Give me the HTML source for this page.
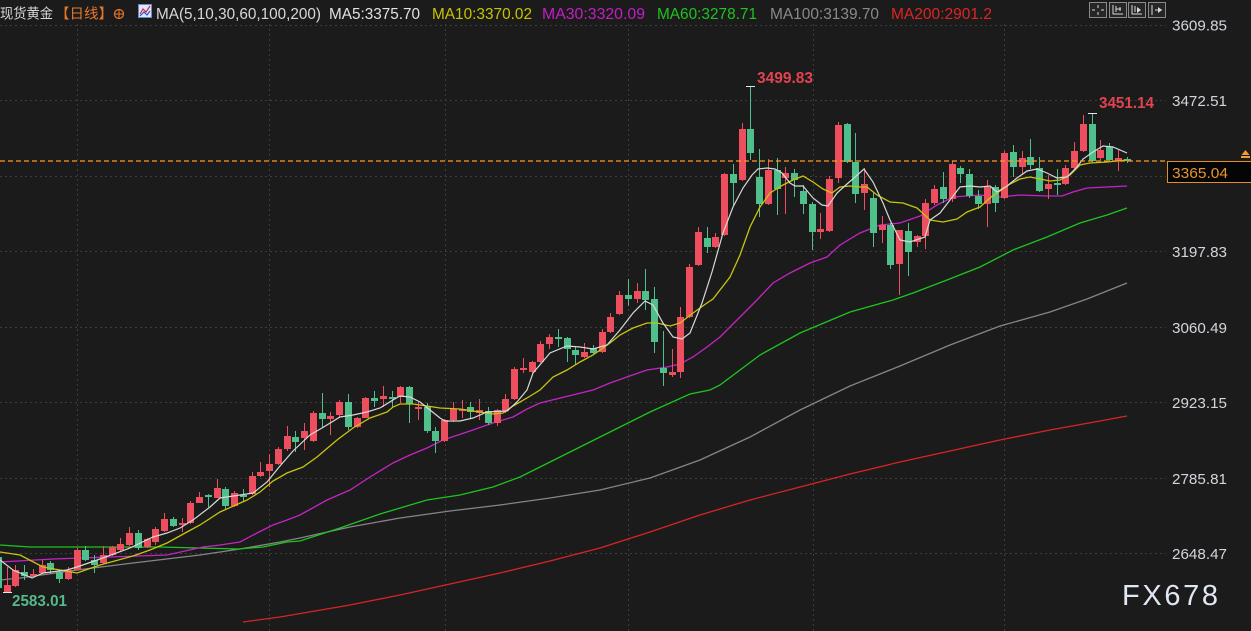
<!DOCTYPE html>
<html>
<head>
<meta charset="utf-8">
<style>
html,body{margin:0;padding:0;background:#1b1b1b;overflow:hidden;}
svg{display:block;}
text{font-family:"Liberation Sans","Noto Sans CJK SC",sans-serif;}
</style>
</head>
<body>
<svg width="1251" height="631" viewBox="0 0 1251 631" xmlns="http://www.w3.org/2000/svg">
<rect x="0" y="0" width="1251" height="631" fill="#1b1b1b"/>

<!-- grid -->
<g stroke="#3d3d3d" stroke-width="1" stroke-dasharray="2 3" shape-rendering="crispEdges" fill="none">
<path d="M0 25.5H1166M0 100.5H1166M0 176.5H1166M0 251.5H1166M0 327.5H1166M0 402.5H1166M0 478.5H1166M0 553.5H1166"/>
<path d="M77.5 24V631M269.5 24V631M445.5 24V631M628.5 24V631M813.5 24V631M1004.5 24V631"/>
</g>

<!-- MA200 -->
<polyline fill="none" stroke="#d82424" stroke-width="1.3" points="243,622 280,617 350,605 400,595 450,584 500,573 550,561 600,548 650,532 700,515 750,500 800,487 850,474 900,462 950,451 1000,440 1050,430 1100,421 1127,416"/>
<!-- MA100 -->
<polyline fill="none" stroke="#858585" stroke-width="1.3" points="0,580 20,578 77,570 133,563 200,555 240,549 280,542 300,538 350,527 400,518 450,511 500,505 550,498 600,490 650,478 700,460 750,437 800,410 850,386 900,366 950,345 1000,326 1050,312 1087,299 1127,283"/>
<!-- MA60 -->
<polyline fill="none" stroke="#1ec41e" stroke-width="1.3" points="0,545 30,547 160,547 238,549 263,547 287,542 300,541 340,528 380,514 427,500 460,495 493,487 520,477 540,467 570,452 600,437 650,412 690,394 710,390 720,385 760,355 800,333 850,312 893,300 913,293 947,280 980,267 1013,250 1047,237 1080,223 1107,215 1127,208"/>
<!-- MA30 -->
<polyline fill="none" stroke="#c424c4" stroke-width="1.3" points="0,562 53,559 167,555 203,547 220,545 240,542 257,533 273,525 287,520 300,515 327,500 350,490 370,477 393,463 410,455 427,448 443,440 467,432 493,423 513,417 527,409 540,403 593,390 610,383 627,377 647,370 667,367 680,364 693,357 707,347 720,337 757,300 773,283 790,273 810,263 827,257 840,245 860,233 880,225 900,223 920,216 937,205 953,197 967,196 980,195 1000,197 1020,195 1047,196 1062,196 1073,192 1087,188 1107,187 1127,186"/>

<!-- candles -->
<g shape-rendering="crispEdges">
<path fill="none" stroke="#ee4f5e" stroke-width="1" d="M7.5 567V593M15.5 565V587M33.5 569V577M42.5 560V574M68.5 567V580M77.5 548V570M103.5 546V564M112.5 546V556M120.5 538V551M129.5 527V546M147.5 538V548M155.5 527V545M164.5 513V532M182.5 518V532M190.5 501V524M199.5 492V503M217.5 479V498M234.5 491V507M252.5 472V495M260.5 462V477M269.5 454V487M278.5 447V465M287.5 426V451M304.5 423V450M313.5 411V442M330.5 412V435M339.5 400V417M357.5 417V428M365.5 397V418M383.5 386V407M400.5 386V403M418.5 402V420M444.5 419V442M453.5 402V422M462.5 400V418M479.5 399V420M497.5 409V426M505.5 394V413M514.5 367V400M523.5 358V373M532.5 361V373M540.5 341V363M549.5 334V349M584.5 343V358M602.5 329V353M610.5 313V333M619.5 291V315M637.5 283V303M672.5 349V377M680.5 307V378M689.5 264V318M698.5 227V266M715.5 233V248M724.5 173V236M742.5 123V181M768.5 159V205M785.5 167V214M820.5 213V239M829.5 176V232M838.5 122V183M864.5 168V210M882.5 216V243M899.5 230V295M917.5 235V247M925.5 199V249M934.5 185V205M952.5 161V202M987.5 180V227M1004.5 151V199M1022.5 151V175M1048.5 175V199M1065.5 165V185M1074.5 142V169M1083.5 115V152M1100.5 140V160M1118.5 149V171"/>
<path fill="#ee4f5e" d="M4 585h7v7h-7zM12 570h7v16h-7zM30 574h7v2h-7zM39 565h7v8h-7zM65 570h7v9h-7zM74 550h7v20h-7zM100 555h7v8h-7zM109 547h7v8h-7zM117 544h7v6h-7zM126 533h7v12h-7zM144 539h7v8h-7zM152 529h7v13h-7zM161 519h7v12h-7zM179 523h7v2h-7zM187 503h7v20h-7zM196 497h7v6h-7zM214 488h7v10h-7zM231 493h7v13h-7zM249 476h7v18h-7zM257 472h7v4h-7zM266 464h7v7h-7zM275 449h7v15h-7zM284 436h7v13h-7zM301 431h7v7h-7zM310 413h7v28h-7zM327 416h7v3h-7zM336 402h7v13h-7zM354 418h7v9h-7zM362 398h7v20h-7zM380 396h7v3h-7zM397 387h7v10h-7zM415 407h7v2h-7zM441 420h7v21h-7zM450 409h7v11h-7zM459 409h7v2h-7zM476 410h7v3h-7zM494 410h7v13h-7zM502 399h7v12h-7zM511 369h7v30h-7zM520 368h7v2h-7zM529 362h7v10h-7zM537 344h7v18h-7zM546 337h7v7h-7zM581 352h7v5h-7zM599 332h7v20h-7zM607 317h7v15h-7zM616 295h7v19h-7zM634 291h7v8h-7zM669 372h7v3h-7zM677 317h7v55h-7zM686 267h7v50h-7zM695 232h7v33h-7zM712 237h7v10h-7zM721 174h7v61h-7zM739 129h7v51h-7zM765 170h7v34h-7zM782 173h7v5h-7zM817 229h7v3h-7zM826 179h7v52h-7zM835 125h7v53h-7zM861 184h7v9h-7zM879 225h7v5h-7zM896 230h7v34h-7zM914 236h7v6h-7zM922 203h7v33h-7zM931 189h7v14h-7zM949 164h7v35h-7zM984 187h7v17h-7zM1001 153h7v45h-7zM1019 158h7v9h-7zM1045 184h7v5h-7zM1062 168h7v16h-7zM1071 151h7v17h-7zM1080 124h7v27h-7zM1097 150h7v8h-7zM1115 158h7v3h-7z"/>
<path fill="none" stroke="#4fbf8c" stroke-width="1" d="M-1.5 552V590M24.5 565V580M50.5 561V574M59.5 570V583M85.5 546V561M94.5 555V573M138.5 530V550M173.5 517V527M208.5 494V507M225.5 487V509M243.5 489V502M295.5 431V452M322.5 393V428M348.5 394V430M374.5 391V407M392.5 391V407M409.5 386V423M427.5 403V433M435.5 427V453M470.5 402V418M488.5 407V425M558.5 329V347M567.5 337V362M575.5 347V365M593.5 345V354M628.5 279V306M645.5 269V310M654.5 287V353M663.5 331V386M707.5 227V253M733.5 164V205M750.5 86V160M759.5 149V217M777.5 158V215M794.5 169V197M803.5 185V214M812.5 202V250M847.5 123V163M855.5 133V203M873.5 193V247M890.5 223V269M908.5 223V276M943.5 172V203M960.5 166V183M969.5 169V198M978.5 190V209M995.5 185V212M1013.5 145V177M1030.5 139V169M1039.5 157V192M1057.5 169V195M1092.5 113V162M1109.5 143V161M1127.5 157V163"/>
<path fill="#4fbf8c" d="M-5 557h7v31h-7zM21 572h7v4h-7zM47 563h7v7h-7zM56 572h7v7h-7zM82 550h7v10h-7zM91 560h7v5h-7zM135 533h7v15h-7zM170 519h7v7h-7zM205 495h7v2h-7zM222 489h7v17h-7zM240 495h7v2h-7zM292 437h7v5h-7zM319 413h7v6h-7zM345 402h7v25h-7zM371 398h7v3h-7zM389 397h7v2h-7zM406 387h7v17h-7zM424 407h7v24h-7zM432 431h7v10h-7zM467 407h7v5h-7zM485 411h7v12h-7zM555 337h7v2h-7zM564 338h7v11h-7zM572 350h7v5h-7zM590 348h7v5h-7zM625 295h7v4h-7zM642 291h7v9h-7zM651 299h7v43h-7zM660 368h7v5h-7zM704 238h7v9h-7zM730 174h7v9h-7zM747 129h7v24h-7zM756 177h7v27h-7zM774 170h7v19h-7zM791 173h7v7h-7zM800 191h7v13h-7zM809 204h7v28h-7zM844 124h7v38h-7zM852 162h7v32h-7zM870 198h7v35h-7zM887 225h7v40h-7zM905 231h7v21h-7zM940 187h7v12h-7zM957 168h7v6h-7zM966 174h7v22h-7zM975 196h7v8h-7zM992 187h7v16h-7zM1010 152h7v15h-7zM1027 157h7v8h-7zM1036 168h7v23h-7zM1054 183h7v2h-7zM1089 124h7v37h-7zM1106 147h7v13h-7zM1124 159h7v2h-7z"/>
</g>

<!-- MA10 -->
<polyline fill="none" stroke="#c8c410" stroke-width="1.3" points="0,552 20,555 43,567 77,573 100,565 133,556 150,550 167,543 187,532 200,525 220,512 247,500 260,492 273,481 287,473 303,467 317,457 337,440 353,428 370,418 387,412 393,407 400,404 413,404 427,406 440,408 460,409 473,411 493,414 503,413 513,406 527,398 540,390 553,377 567,370 580,362 593,355 610,343 620,335 633,328 647,323 657,323 670,326 680,323 693,313 707,303 713,299 730,277 740,255 750,227 760,207 770,193 783,185 793,180 803,176 813,182 823,189 832,193 840,187 850,186 860,187 867,187 877,195 890,202 903,203 917,208 930,220 943,222 957,219 967,212 980,207 990,198 1000,191 1010,184 1020,179 1030,177 1040,179 1050,181 1060,180 1070,175 1080,165 1090,163 1107,162 1127,160"/>
<!-- MA5 -->
<polyline fill="none" stroke="#d8d8d8" stroke-width="1.2" points="0,560 13,570 32,578 43,573 67,570 77,567 100,559 130,548 153,537 167,533 180,528 193,520 210,507 220,498 240,495 253,493 267,482 280,466 293,451 310,435 322,428 340,417 353,415 367,412 380,408 393,400 400,396 410,397 420,402 430,410 440,418 445,421 460,421 473,418 487,412 507,411 517,402 527,390 533,373 550,353 567,346 580,347 593,349 607,345 620,330 633,313 645,301 653,305 663,323 673,337 682,339 690,333 702,303 712,272 723,233 733,207 743,188 752,175 758,169 767,168 775,169 782,173 790,183 795,186 803,186 813,198 822,205 828,206 837,193 847,184 855,177 864,169 873,182 883,203 890,220 900,240 910,242 925,237 930,220 940,213 950,200 960,187 970,186 980,187 990,186 997,192 1007,186 1017,178 1027,171 1037,169 1047,173 1057,178 1067,177 1077,167 1083,159 1093,152 1103,146 1113,147 1127,153"/>

<!-- high/low markers -->
<g stroke="#e6e6e6" stroke-width="1" shape-rendering="crispEdges">
<path d="M746 86.5H755M1088 113.5H1097M3 592.5H12"/>
</g>
<text x="757" y="83" font-size="15.5" font-weight="bold" fill="#e2434f" textLength="56" lengthAdjust="spacingAndGlyphs">3499.83</text>
<text x="1099" y="108" font-size="15.5" font-weight="bold" fill="#e2434f" textLength="55" lengthAdjust="spacingAndGlyphs">3451.14</text>
<text x="12" y="606" font-size="15.5" font-weight="bold" fill="#55b98b" textLength="55" lengthAdjust="spacingAndGlyphs">2583.01</text>

<!-- current price line -->
<path d="M0 161H1168" stroke="#ff9a1f" stroke-width="1.3" stroke-dasharray="5 3"/>
<rect x="1167.5" y="161.5" width="84" height="21" fill="#050505" stroke="#e0902e" stroke-width="1" shape-rendering="crispEdges"/>
<text x="1172" y="178" font-size="15" fill="#e8962f" textLength="56" lengthAdjust="spacingAndGlyphs">3365.04</text>
<polygon points="1241.5,155 1245.5,150 1249.5,155" fill="#f09a32"/>
<rect x="1241" y="156" width="9" height="2" fill="#f09a32"/>

<!-- y axis labels -->
<g font-size="15" fill="#d2d6dc">
<text x="1172" y="30.5" textLength="55" lengthAdjust="spacingAndGlyphs">3609.85</text>
<text x="1172" y="106" textLength="55" lengthAdjust="spacingAndGlyphs">3472.51</text>
<text x="1172" y="257" textLength="55" lengthAdjust="spacingAndGlyphs">3197.83</text>
<text x="1172" y="333" textLength="55" lengthAdjust="spacingAndGlyphs">3060.49</text>
<text x="1172" y="408" textLength="55" lengthAdjust="spacingAndGlyphs">2923.15</text>
<text x="1172" y="484" textLength="55" lengthAdjust="spacingAndGlyphs">2785.81</text>
<text x="1172" y="559" textLength="55" lengthAdjust="spacingAndGlyphs">2648.47</text>
</g>

<!-- header -->
<text x="0" y="18.5" font-size="14" fill="#d8d8d8" textLength="53" lengthAdjust="spacingAndGlyphs">现货黄金</text>
<text x="55" y="18.5" font-size="14" fill="#e8772c" textLength="58" lengthAdjust="spacingAndGlyphs">【日线】</text>
<circle cx="119" cy="14" r="4.5" fill="none" stroke="#e8772c" stroke-width="1.2"/>
<path d="M114.5 14H123.5M119 9.5V18.5" stroke="#e8772c" stroke-width="1"/>
<rect x="138.5" y="4.5" width="13" height="13" fill="#dde6ff" stroke="#6f86c8" stroke-width="1"/>
<polyline points="140,14 143,9 146,12 150,6" fill="none" stroke="#d83030" stroke-width="1.2"/>
<polyline points="140,16 144,12 147,15 150,11" fill="none" stroke="#3050d0" stroke-width="1.2"/>
<g font-size="15.5">
<text x="156" y="19" fill="#d8d8d8" textLength="165" lengthAdjust="spacingAndGlyphs">MA(5,10,30,60,100,200)</text>
<text x="329" y="19" fill="#e2e2e2" textLength="91" lengthAdjust="spacingAndGlyphs">MA5:3375.70</text>
<text x="432" y="19" fill="#c8c400" textLength="100" lengthAdjust="spacingAndGlyphs">MA10:3370.02</text>
<text x="542" y="19" fill="#c41ec4" textLength="103" lengthAdjust="spacingAndGlyphs">MA30:3320.09</text>
<text x="657" y="19" fill="#1ec41e" textLength="100" lengthAdjust="spacingAndGlyphs">MA60:3278.71</text>
<text x="770" y="19" fill="#8a8a8a" textLength="109" lengthAdjust="spacingAndGlyphs">MA100:3139.70</text>
<text x="891" y="19" fill="#e02424" textLength="101" lengthAdjust="spacingAndGlyphs">MA200:2901.2</text>
</g>

<!-- top right tool icons -->
<g fill="#262626" stroke="#8a8a8a" stroke-width="1" shape-rendering="crispEdges">
<rect x="1089.5" y="2.5" width="17" height="15"/>
<rect x="1109.5" y="2.5" width="17" height="15"/>
<rect x="1128.5" y="2.5" width="17" height="15"/>
<rect x="1148.5" y="2.5" width="17" height="15"/>
</g>
<g stroke="#d8d8d8" stroke-width="1" fill="none" shape-rendering="crispEdges">
<path d="M1098 5V8M1098 12V15M1092 10H1095M1101 10H1104"/>
<path d="M1113 5V14H1123M1116 6V12M1116 9H1121M1120 7V11"/>
<path d="M1132 5V14H1142M1135 6V12"/>
<path d="M1152 5V15M1155 10H1162"/>
</g>
<polygon points="1137,7 1141,10 1137,13" fill="#d8d8d8"/>
<polygon points="1158,7 1162,10 1158,13" fill="#d8d8d8"/>

<!-- watermark -->
<text x="1122" y="605" font-size="29" fill="#dfe7f2" letter-spacing="4" textLength="100" lengthAdjust="spacing">FX678</text>
</svg>
</body>
</html>
